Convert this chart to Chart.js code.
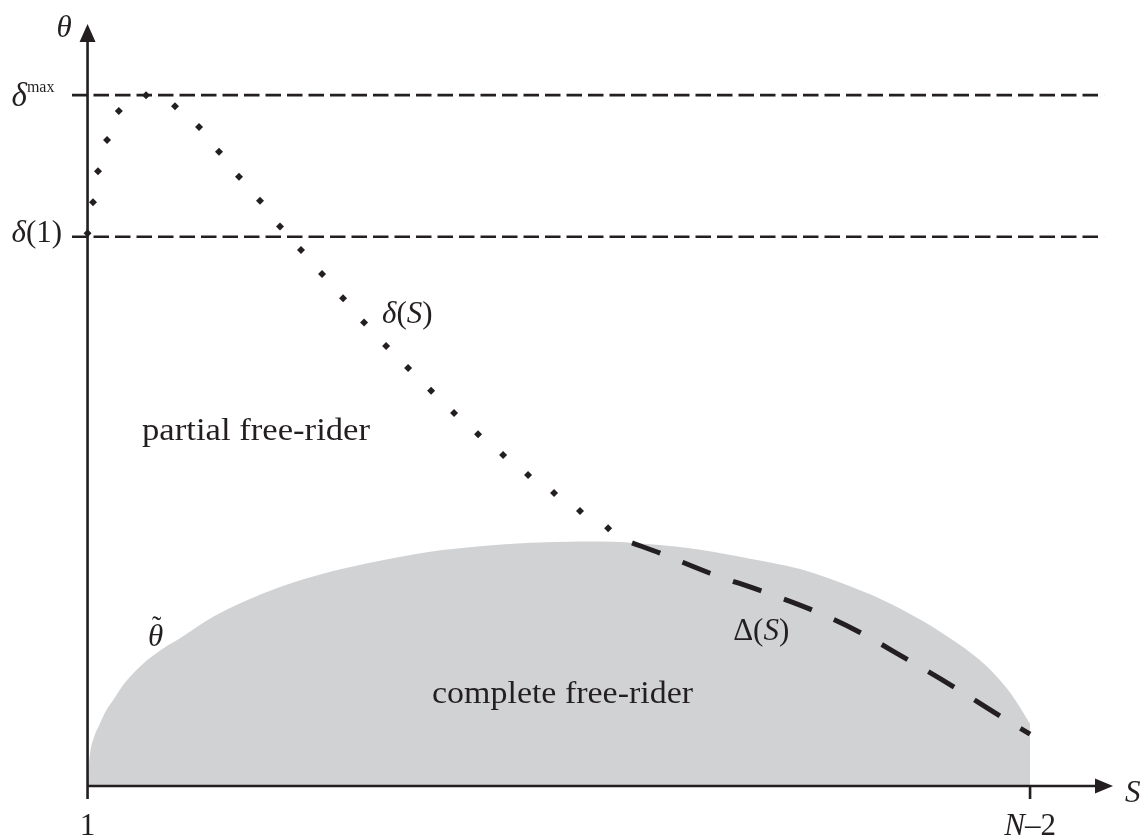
<!DOCTYPE html>
<html>
<head>
<meta charset="utf-8">
<script src="https://cdn.jsdelivr.net/npm/chart.js@4.4.1/dist/chart.umd.min.js"></script>
<style>
html, body { margin: 0; padding: 0; background: #fff; }
canvas { display: block; }
</style>
</head>
<body>
<canvas id="freeRider" width="1144" height="839"></canvas>
<script>
// S axis: 1 sits at x = 0, N-2 at x = 100. theta axis: delta max = 100.
const xTickValues = [0, 100];
const xTickLabels = ["1", "N\u20132"];
const yTickValues = [100, 79.5];   // delta max, delta(1)

// delta(S), dotted
const deltaX = [0, 0.58, 1.11, 2.07, 3.32, 6.21, 9.28, 11.83, 13.95, 16.07, 18.30, 20.42, 22.65,
                24.88, 27.11, 29.34, 31.68, 34.01, 36.45, 38.89, 41.43, 44.09, 46.74, 49.50, 52.25, 55.23];
const deltaY = [80.0, 84.5, 89.0, 93.5, 97.7, 100, 98.4, 95.4, 91.8, 88.2, 84.7, 81.0, 77.6,
                74.1, 70.6, 67.1, 63.7, 60.5, 57.2, 54.0, 50.9, 47.9, 45.0, 42.4, 39.8, 37.3];

// Delta(S), dashed
const bigDeltaX = [57.77, 60.74, 66.05, 71.56, 76.66, 81.86, 86.74, 91.72, 96.50, 100];
const bigDeltaY = [35.2, 33.7, 30.8, 28.2, 25.6, 22.3, 18.5, 14.5, 10.4, 7.5];

// theta tilde, upper edge of the complete free-rider region
const tildeX = [0, 0.11, 0.27, 0.69, 1.33, 1.96, 2.71, 3.55, 4.51, 6.31, 8.22, 9.81, 13.32, 16.92,
                20.42, 25.73, 31.03, 36.34, 41.64, 46.95, 52.25, 54.38, 59.68, 65.0, 70.29, 75.60,
                80.90, 84.08, 88.33, 91.51, 94.69, 96.82, 98.41, 100];
const tildeY = [0, 2.6, 4.8, 7.1, 9.1, 10.9, 12.4, 14.2, 15.8, 18.2, 20.1, 21.4, 24.5, 26.9,
                28.8, 31.0, 32.6, 33.9, 34.7, 35.2, 35.4, 35.4, 35.0, 34.2, 32.9, 31.4,
                28.9, 27.1, 24.1, 21.4, 18.2, 15.3, 12.5, 9.0];

const INK = "#231f20";
const GREY = "#d1d2d4";
const SERIF = "'Liberation Serif', 'Times New Roman', serif";
const X_MIN = -1.65, X_MAX = 108.8, Y_MAX = 110.3;

const pts = (xs, ys) => xs.map((x, i) => ({x: x, y: ys[i]}));
const it = s => `italic ${s}px ${SERIF}`;
const rm = s => `${s}px ${SERIF}`;

function runWidth(ctx, parts) {
    let w = 0;
    parts.forEach(p => { ctx.font = p.font; w += ctx.measureText(p.text).width; });
    return w;
}

function drawRun(ctx, x, y, parts) {
    parts.forEach(p => {
        ctx.font = p.font;
        ctx.fillText(p.text, x, y + (p.dy || 0));
        x += ctx.measureText(p.text).width;
    });
}

// plain text stretched to the width it has in the figure
function drawFitted(ctx, text, x, y, font, width) {
    ctx.font = font;
    const k = width / ctx.measureText(text).width;
    ctx.save();
    ctx.translate(x, y);
    ctx.scale(k, 1);
    ctx.fillText(text, 0, 0);
    ctx.restore();
}

const axesPlugin = {
    id: "axes",
    afterDatasetsDraw(chart) {
        const {ctx, scales: {x, y}} = chart;
        const x0 = x.getPixelForValue(0), y0 = y.getPixelForValue(0);
        const xEnd = x.right, yEnd = y.top;
        ctx.save();
        ctx.strokeStyle = INK;
        ctx.fillStyle = INK;
        ctx.lineWidth = 2.6;
        ctx.beginPath();
        ctx.moveTo(x0, y0); ctx.lineTo(xEnd - 12, y0);
        ctx.moveTo(x0, y0 + 1.3); ctx.lineTo(x0, yEnd + 12);
        xTickValues.forEach(v => {
            const px = x.getPixelForValue(v);
            ctx.moveTo(px, y0); ctx.lineTo(px, y0 + 13);
        });
        ctx.stroke();
        ctx.beginPath();
        ctx.moveTo(xEnd, y0); ctx.lineTo(xEnd - 18, y0 - 7.5); ctx.lineTo(xEnd - 18, y0 + 7.5);
        ctx.closePath();
        ctx.moveTo(x0, yEnd); ctx.lineTo(x0 - 8, yEnd + 18); ctx.lineTo(x0 + 8, yEnd + 18);
        ctx.closePath();
        ctx.fill();
        ctx.restore();
    },
    afterDraw(chart) {
        const {ctx, scales: {x, y}} = chart;
        const x0 = x.getPixelForValue(0), y0 = y.getPixelForValue(0);
        ctx.save();
        ctx.fillStyle = INK;
        ctx.textBaseline = "alphabetic";
        ctx.textAlign = "left";

        // axis names
        drawRun(ctx, x0 - 31, y.top + 13, [{text: "\u03b8", font: it(31)}]);
        drawRun(ctx, x.right + 12, y0 + 16, [{text: "S", font: it(31)}]);

        // theta ticks
        const yMax = y.getPixelForValue(yTickValues[0]);
        const yOne = y.getPixelForValue(yTickValues[1]);
        drawRun(ctx, x0 - 76, yMax + 11, [
            {text: "\u03b4", font: it(33)},
            {text: "max", font: rm(16), dy: -14}
        ]);
        drawRun(ctx, x0 - 76, yOne + 5, [
            {text: "\u03b4", font: it(31)},
            {text: "(1)", font: rm(31)}
        ]);

        // S ticks
        const oneParts = [{text: xTickLabels[0], font: rm(31)}];
        const lastParts = [{text: "N", font: it(31)}, {text: xTickLabels[1].slice(1), font: rm(31)}];
        [oneParts, lastParts].forEach((parts, i) => {
            const px = x.getPixelForValue(xTickValues[i]);
            drawRun(ctx, px - runWidth(ctx, parts) / 2, y0 + 49, parts);
        });

        // curve and region labels
        drawRun(ctx, x.getPixelForValue(31.25), y.getPixelForValue(67.0), [
            {text: "\u03b4", font: it(31)}, {text: "(", font: rm(31)},
            {text: "S", font: it(31)}, {text: ")", font: rm(31)}
        ]);
        drawRun(ctx, x.getPixelForValue(68.5), y.getPixelForValue(21.1), [
            {text: "\u0394", font: rm(31)}, {text: "(", font: rm(31)},
            {text: "S", font: it(31)}, {text: ")", font: rm(31)}
        ]);
        const tx = x.getPixelForValue(6.42), ty = y.getPixelForValue(20.3);
        drawRun(ctx, tx, ty, [{text: "\u03b8", font: it(31)}]);
        ctx.font = rm(28);
        ctx.fillText("\u02dc", tx + 4, ty - 11);

        drawFitted(ctx, "partial free-rider", x.getPixelForValue(5.78), y.getPixelForValue(50.1), rm(31), 228);
        drawFitted(ctx, "complete free-rider", x.getPixelForValue(36.55), y.getPixelForValue(12.0), rm(31), 261);
        ctx.restore();
    }
};

new Chart(document.getElementById("freeRider").getContext("2d"), {
    type: "scatter",
    data: {
        datasets: [
            {
                label: "delta(S)",
                data: pts(deltaX, deltaY),
                showLine: false,
                pointStyle: "rectRot",
                pointRadius: 4,
                pointBackgroundColor: INK,
                pointBorderWidth: 0
            },
            {
                label: "Delta(S)",
                data: pts(bigDeltaX, bigDeltaY),
                showLine: true,
                borderColor: INK,
                borderWidth: 5,
                borderDash: [30, 24],
                borderCapStyle: "butt",
                cubicInterpolationMode: "monotone",
                pointRadius: 0
            },
            {
                label: "delta max",
                data: [{x: X_MIN, y: yTickValues[0]}, {x: 107.85, y: yTickValues[0]}],
                showLine: true,
                borderColor: INK,
                borderWidth: 2.6,
                borderDash: [15.5, 6],
                pointRadius: 0
            },
            {
                label: "delta(1)",
                data: [{x: X_MIN, y: yTickValues[1]}, {x: 107.85, y: yTickValues[1]}],
                showLine: true,
                borderColor: INK,
                borderWidth: 2.6,
                borderDash: [15.5, 6],
                pointRadius: 0
            },
            {
                label: "complete free-rider",
                data: pts(tildeX, tildeY),
                showLine: true,
                borderWidth: 0,
                fill: "origin",
                backgroundColor: GREY,
                cubicInterpolationMode: "monotone",
                pointRadius: 0
            }
        ]
    },
    options: {
        responsive: false,
        animation: false,
        layout: {padding: {left: 72, right: 31, top: 24, bottom: 53}},
        scales: {
            x: {type: "linear", min: X_MIN, max: X_MAX, display: false},
            y: {type: "linear", min: 0, max: Y_MAX, display: false}
        },
        plugins: {
            legend: {display: false},
            tooltip: {enabled: false}
        }
    },
    plugins: [axesPlugin]
});
</script>
</body>
</html>
